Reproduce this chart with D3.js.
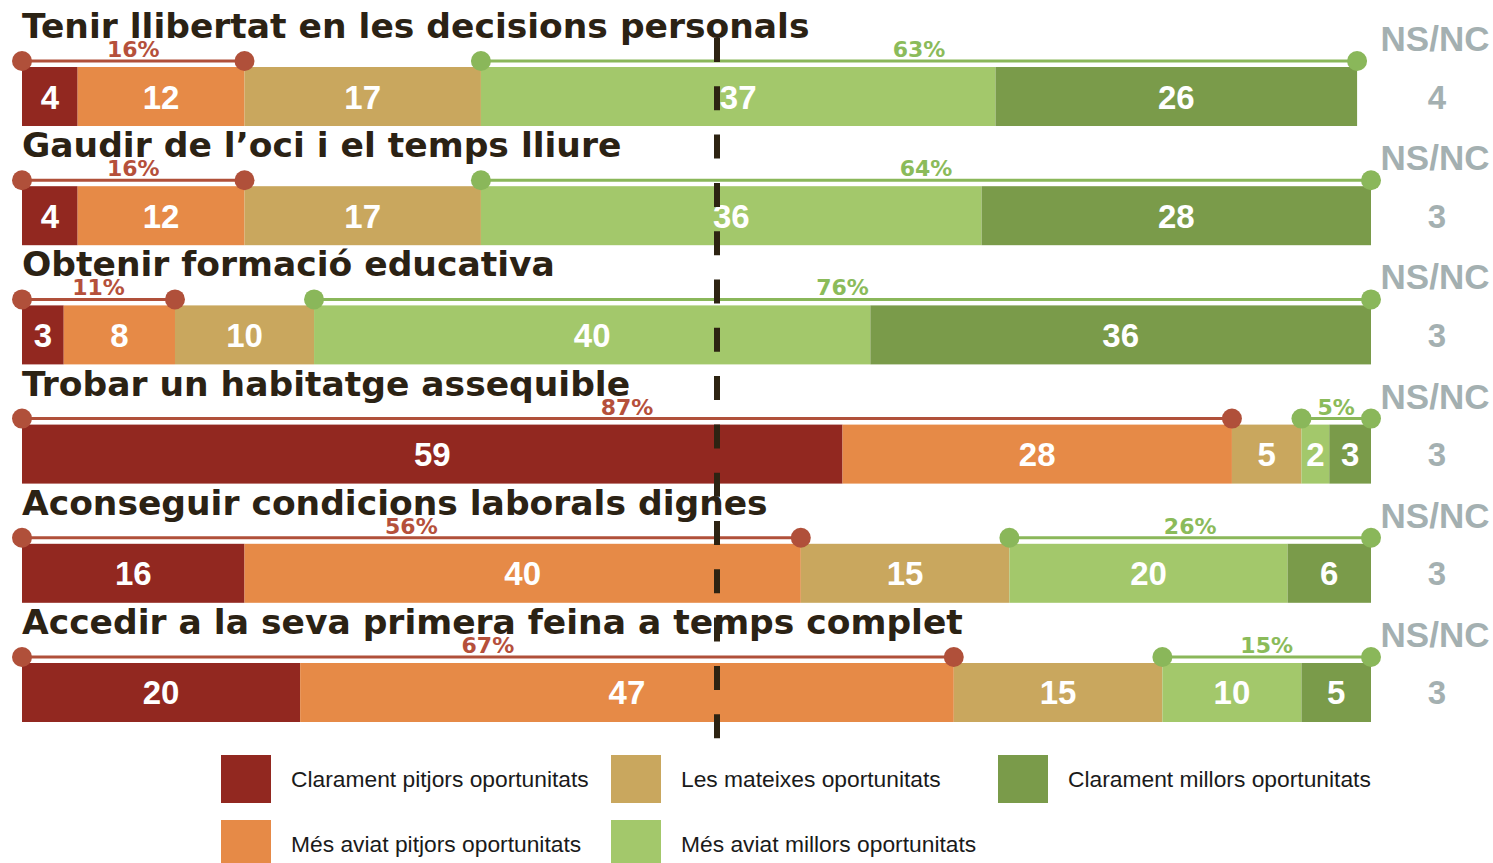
<!DOCTYPE html>
<html>
<head>
<meta charset="utf-8">
<title>Oportunitats</title>
<script src="https://cdn.jsdelivr.net/npm/d3@7"></script>
<style>
  body { margin: 0; background: #fff; }
</style>
</head>
<body>
<svg id="chart"></svg>
<script>
// data
var titles = [
  "Tenir llibertat en les decisions personals",
  "Gaudir de l\u2019oci i el temps lliure",
  "Obtenir formació educativa",
  "Trobar un habitatge assequible",
  "Aconseguir condicions laborals dignes",
  "Accedir a la seva primera feina a temps complet"
];
var categories = [
  "Clarament pitjors oportunitats",
  "Més aviat pitjors oportunitats",
  "Les mateixes oportunitats",
  "Més aviat millors oportunitats",
  "Clarament millors oportunitats"
];
var clarPitjors = [4, 4, 3, 59, 16, 20];
var mesPitjors  = [12, 12, 8, 28, 40, 47];
var mateixes    = [17, 17, 10, 5, 15, 15];
var mesMillors  = [37, 36, 40, 2, 20, 10];
var clarMillors = [26, 28, 36, 3, 6, 5];
var nsnc        = [4, 3, 3, 3, 3, 3];
var pitjorsPct  = [16, 16, 11, 87, 56, 67];
var millorsPct  = [63, 64, 76, 5, 26, 15];

var colors = ["#922820", "#e68a47", "#c9a75e", "#a3c86b", "#7a9b4a"];
var redLine = "#b0503a", greenLine = "#8ab75a";
var titleFont = "'DejaVu Sans', Verdana, sans-serif";
var numFont = "'Liberation Sans', Arial, sans-serif";

var width = 1493, height = 863;
var svg = d3.select("#chart").attr("width", width).attr("height", height);

var x = d3.scaleLinear().domain([0, 97]).range([22, 1371]);
var y = d3.scaleBand().domain(d3.range(titles.length)).range([67, 722]).paddingInner(0.505);
var color = d3.scaleOrdinal().domain(d3.range(5)).range(colors);
var bh = y.bandwidth();

var rows = titles.map(function(t, i) {
  var vals = [clarPitjors[i], mesPitjors[i], mateixes[i], mesMillors[i], clarMillors[i]];
  var acc = 0;
  var segs = vals.map(function(v, k) {
    var s = { k: k, v: v, x0: acc, x1: acc + v };
    acc += v;
    return s;
  });
  return { i: i, title: t, segs: segs, nsnc: nsnc[i], worse: pitjorsPct[i], better: millorsPct[i] };
});

var row = svg.selectAll("g.row")
  .data(rows)
  .enter().append("g")
    .attr("class", "row")
    .attr("transform", function(d) { return "translate(0," + y(d.i) + ")"; });

// stacked segments
row.selectAll("rect")
  .data(function(d) { return d.segs; })
  .enter().append("rect")
    .attr("x", function(d) { return x(d.x0); })
    .attr("width", function(d) { return x(d.x1) - x(d.x0); })
    .attr("y", 0)
    .attr("height", bh)
    .attr("fill", function(d) { return color(d.k); });

// brackets: worse (first two) and better (last two)
function brackets(d) {
  return [
    { a: d.segs[0].x0, b: d.segs[1].x1, pct: d.worse, c: redLine, tc: "#b5503b" },
    { a: d.segs[3].x0, b: d.segs[4].x1, pct: d.better, c: greenLine, tc: "#8bbb5a" }
  ];
}
var br = row.selectAll("g.br")
  .data(brackets)
  .enter().append("g").attr("class", "br");

br.append("line")
  .attr("x1", function(d) { return x(d.a); })
  .attr("x2", function(d) { return x(d.b); })
  .attr("y1", -6).attr("y2", -6)
  .attr("stroke", function(d) { return d.c; })
  .attr("stroke-width", 3);

br.selectAll("circle")
  .data(function(d) { return [{ v: d.a, c: d.c }, { v: d.b, c: d.c }]; })
  .enter().append("circle")
    .attr("cx", function(d) { return x(d.v); })
    .attr("cy", -6)
    .attr("r", 10)
    .attr("fill", function(d) { return d.c; });

br.append("text")
  .attr("x", function(d) { return (x(d.a) + x(d.b)) / 2; })
  .attr("y", -10)
  .attr("text-anchor", "middle")
  .style("font-family", titleFont)
  .style("font-weight", "bold")
  .style("font-size", "22px")
  .attr("fill", function(d) { return d.tc; })
  .text(function(d) { return d.pct + "%"; });

// titles
row.append("text")
  .attr("x", 22)
  .attr("y", -29)
  .style("font-family", titleFont)
  .style("font-weight", "bold")
  .style("font-size", "34.5px")
  .attr("fill", "#2b2214")
  .text(function(d) { return d.title; });

// NS/NC column
row.append("text")
  .attr("x", 1435)
  .attr("y", -16)
  .attr("text-anchor", "middle")
  .style("font-family", numFont)
  .style("font-weight", "bold")
  .style("font-size", "35px")
  .attr("fill", "#a4b0b1")
  .text("NS/NC");

row.append("text")
  .attr("x", 1437)
  .attr("y", bh / 2 + 12)
  .attr("text-anchor", "middle")
  .style("font-family", numFont)
  .style("font-weight", "bold")
  .style("font-size", "33px")
  .attr("fill", "#a4b0b1")
  .text(function(d) { return d.nsnc; });

// dashed reference line
svg.append("line")
  .attr("x1", 717).attr("x2", 717)
  .attr("y1", 38).attr("y2", 741)
  .attr("stroke", "#2d2312")
  .attr("stroke-width", 6)
  .attr("stroke-dasharray", "24,24.3");

// segment values
row.selectAll("text.val")
  .data(function(d) { return d.segs; })
  .enter().append("text")
    .attr("class", "val")
    .attr("x", function(d) { return (x(d.x0) + x(d.x1)) / 2; })
    .attr("y", bh / 2 + 12)
    .attr("text-anchor", "middle")
    .style("font-family", numFont)
    .style("font-weight", "bold")
    .style("font-size", "33px")
    .attr("fill", "#fff")
    .text(function(d) { return d.v; });

// legend
var legX = [221, 611, 998], legY = [779, 844];
var leg = svg.selectAll("g.leg")
  .data(categories)
  .enter().append("g")
    .attr("class", "leg")
    .attr("transform", function(d, k) {
      return "translate(" + legX[Math.floor(k / 2)] + "," + legY[k % 2] + ")";
    });

leg.append("rect")
  .attr("x", 0).attr("y", -24)
  .attr("width", 50).attr("height", 48)
  .attr("fill", function(d, k) { return color(k); });

leg.append("text")
  .attr("x", 70)
  .attr("y", 8)
  .style("font-family", numFont)
  .style("font-size", "22.8px")
  .attr("fill", "#1a1a1a")
  .text(function(d) { return d; });
</script>
</body>
</html>
